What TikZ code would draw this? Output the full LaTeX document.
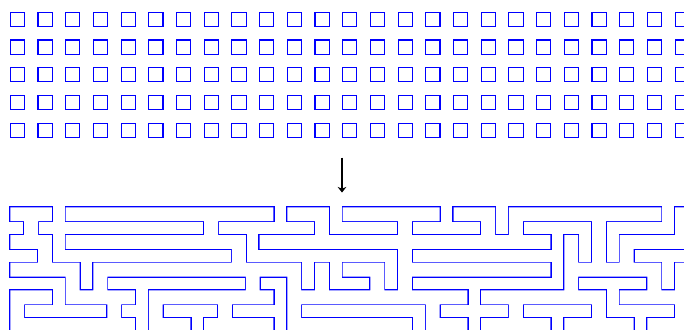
\documentclass[tikz,border=0pt]{standalone}
\usetikzlibrary{arrows.meta}
\definecolor{mazeblue}{RGB}{0,0,255}
\begin{document}
\begin{tikzpicture}[x=0.5pt,y=-0.5pt,
  gridsquare/.style={draw=mazeblue, line width=0.55pt},
  wallstroke/.style={draw=mazeblue, line width=1.15pt},
  flowarrow/.style={draw=black, line width=0.8pt, -{Stealth[length=2.8pt,width=4.4pt,inset=0.9pt]}}]
\useasboundingbox (0,0) rectangle (684,329);
\clip (0,0) rectangle (684,329);
% grid of squares
\foreach \c in {0,...,24}{
  \foreach \r in {0,...,4}{
    \draw[gridsquare] ({10.3+27.7*\c},{12.3+27.7*\r}) rectangle ++(14.2,14.2);
  }
}
% arrow
\coordinate (gridbottom) at (342,157.5);
\coordinate (mazetop) at (342,192.5);
\draw[flowarrow] (gridbottom) -- (mazetop);
% maze: runs of wall cells (row/first/last)
\def\mazeruns{0/0/2,0/4/18,0/20/22,0/24/30,0/32/34,0/36/46,0/48/48,
1/1/1,1/14/14,1/22/22,1/28/28,1/34/34,1/36/36,1/42/42,1/48/48,
2/0/2,2/4/16,2/18/38,2/40/40,2/42/42,2/44/48,
3/2/2,3/16/16,3/28/28,3/40/40,3/42/42,3/44/44,
4/0/4,4/6/20,4/22/22,4/24/26,4/28/38,4/40/46,4/48/48,
5/4/4,5/6/6,5/17/17,5/20/20,5/22/22,5/26/26,5/28/28,5/40/40,5/46/46,5/48/48,
6/0/2,6/4/8,6/10/18,6/20/32,6/34/42,6/44/48,
7/0/0,7/7/7,7/10/10,7/15/15,7/20/20,7/30/30,7/36/36,7/42/42,7/48/48,
8/0/8,8/10/12,8/14/18,8/20/28,8/30/32,8/34/38,8/40/44,8/46/48}
\draw[wallstroke] \foreach \j/\a/\b in \mazeruns {
  ({10.3+13.85*\a},{207.3+13.85*\j}) rectangle ({10.3+13.85*(\b+1)},{207.3+13.85*(\j+1)})
};
\fill[white] \foreach \j/\a/\b in \mazeruns {
  ({10.3+13.85*\a},{207.3+13.85*\j}) rectangle ({10.3+13.85*(\b+1)},{207.3+13.85*(\j+1)})
};
\end{tikzpicture}
\end{document}
